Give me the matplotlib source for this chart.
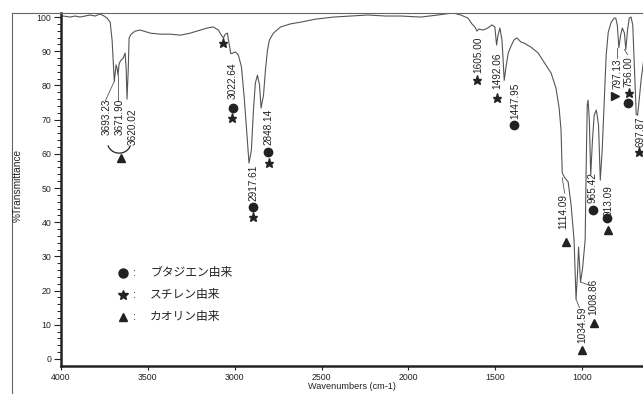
import numpy as np
import matplotlib
matplotlib.use("Agg")
import matplotlib.pyplot as plt
from matplotlib.lines import Line2D

plt.rcParams['font.family'] = ['Liberation Sans', 'Noto Sans CJK JP']

# IR spectrum (wavenumber cm-1, %T)
wavenumber = [4000, 3988, 3948, 3919, 3890, 3862, 3833, 3804, 3775, 3752, 3735,
              3717, 3706, 3693.23, 3683, 3677, 3671.90, 3665, 3654, 3642, 3631,
              3625, 3620.02, 3613, 3608, 3596, 3573, 3544, 3486, 3429, 3371,
              3313, 3256, 3198, 3158, 3123, 3094, 3077, 3065, 3054, 3042, 3036,
              3022.64, 3013, 2996, 2979, 2961, 2944, 2927, 2917.61, 2904, 2892,
              2881, 2869, 2857, 2848.14, 2834, 2823, 2811, 2800, 2777, 2736,
              2679, 2621, 2534, 2430, 2332, 2234, 2130, 2044, 1928, 1830, 1744,
              1698, 1657, 1634, 1617, 1605.00, 1594, 1571, 1542, 1519, 1502,
              1492.06, 1484, 1473, 1461, 1447.95, 1436, 1425, 1409, 1392, 1375,
              1352, 1334, 1294, 1253, 1219, 1178, 1150, 1132, 1121, 1114.09,
              1100, 1080, 1063, 1046, 1034.59, 1026, 1020, 1008.86, 998, 982,
              976, 970, 965.42, 958, 950, 940, 930, 918, 913.09, 905, 895, 884,
              873, 861, 849, 832, 815, 806, 797.13, 788, 778, 768, 756.00, 748,
              738, 728, 718, 708, 697.87, 688, 680, 671, 660, 645]
transmittance = [100.2, 100.3, 100.0, 100.3, 100.0, 100.3, 100.6, 100.3, 100.9,
                 100.3, 99.7, 98.5, 93.3, 81.2, 86.0, 85.0, 83.0, 86.5, 87.4,
                 88.0, 89.5, 85.0, 76.0, 84.5, 93.9, 95.0, 95.9, 96.2, 95.3,
                 95.0, 95.0, 94.7, 95.3, 96.2, 96.8, 97.1, 96.2, 94.7, 93.9,
                 95.0, 95.3, 93.3, 89.3, 89.4, 89.8, 88.9, 85.4, 75.7, 64.0,
                 57.3, 61.0, 72.8, 80.7, 83.0, 80.1, 73.4, 77.2, 84.5, 90.4,
                 93.3, 95.3, 97.1, 98.0, 98.5, 99.4, 100.0, 100.3, 100.6, 100.3,
                 100.3, 100.0, 100.6, 101.2, 100.6, 99.7, 98.0, 97.1, 95.9, 96.5,
                 96.2, 96.8, 97.7, 97.1, 91.8, 94.7, 96.8, 93.3, 81.5, 86.0, 89.5,
                 91.5, 93.3, 93.9, 92.7, 92.4, 91.2, 89.5, 86.8, 83.6, 79.2, 73.4,
                 67.0, 54.5, 53.0, 51.8, 45.0, 34.8, 17.5, 25.0, 32.7, 22.5, 26.0,
                 34.8, 56.7, 74.3, 75.7, 69.9, 53.8, 64.0, 71.3, 72.8, 71.3, 68.4,
                 52.3, 61.1, 74.3, 88.9, 95.6, 98.5, 99.7, 99.7, 97.7, 91.0, 94.7,
                 96.8, 95.3, 90.5, 96.2, 99.7, 100.0, 97.7, 84.5, 71.5, 71.3, 75.7,
                 81.6, 87.4]

# peak labels: text, x, y of the rotated label
peak_labels = ["3693.23", "3671.90", "3620.02", "3022.64", "2917.61", "2848.14",
               "1605.00", "1492.06", "1447.95", "1114.09", "1034.59", "1008.86",
               "965.42", "913.09", "797.13", "756.00", "697.87"]
label_x = [3735, 3660, 3585, 3010, 2894, 2808, 1599, 1489, 1386, 1109, 1000,
           937, 937, 850, 793, 735, 666]
label_y = [70.8, 70.8, 67.8, 81.3, 51.5, 67.8, 88.9, 84.2, 75.4, 43.0, 9.9,
           18.1, 50.0, 46.2, 83.3, 83.9, 66.4]

# assignment markers
butadiene_x = [3010, 2894, 2808, 1392, 937, 856, 735]
butadiene_y = [73.4, 44.4, 60.5, 68.4, 43.6, 41.2, 74.9]
styrene_x = [3067, 3015, 2894, 2802, 1605, 1489, 729, 672]
styrene_y = [92.4, 70.5, 41.5, 57.3, 81.6, 76.3, 77.8, 60.5]
kaolin_x = [3655, 1092, 1000, 931, 850]
kaolin_y = [58.8, 34.2, 2.6, 10.5, 37.7]
kaolin_side_x = [810]
kaolin_side_y = [76.9]

legend_names = ["ブタジエン由来", "スチレン由来", "カオリン由来"]

ink = "#222222"
trace = "#555555"
fig = plt.figure(figsize=(6.43, 3.94), dpi=100)
ax = fig.add_axes([0.0949, 0.0716, 0.9051, 0.8964])

ax.plot(wavenumber, transmittance, color=trace, lw=0.8)
ax.set_xlim(4000, 649)
ax.set_ylim(-2, 101.3)

for txt, x, y in zip(peak_labels, label_x, label_y):
    ax.text(x, y, txt, rotation=90, ha="center", va="center", fontsize=7.2,
            color=ink)

ax.plot(butadiene_x, butadiene_y, "o", color=ink, ms=6, ls="none")
ax.plot(styrene_x, styrene_y, "*", color=ink, ms=6.5, ls="none")
ax.plot(kaolin_x, kaolin_y, "^", color=ink, ms=5.5, ls="none")
ax.plot(kaolin_side_x, kaolin_side_y, ">", color=ink, ms=5.5, ls="none")

# bracket grouping the three OH bands
t = np.linspace(np.radians(200), np.radians(340), 40)
ax.plot(3665 + 67.5 * np.cos(t), 63.4 + 3.2 * np.sin(t), color=ink, lw=0.9)

# leader lines from bands to their labels
ax.plot([3693.23, 3745], [81.2, 75.5], color=trace, lw=0.6)
ax.plot([3671.9, 3671.9], [83, 75.5], color=trace, lw=0.6)
ax.plot([1114.09, 1100], [53, 48.5], color=trace, lw=0.6)
ax.plot([1034.59, 1015], [17.5, 15.0], color=trace, lw=0.6)
ax.plot([1008.86, 955], [22.5, 21.5], color=trace, lw=0.6)
ax.plot([797.13, 797.13], [91.0, 88.0], color=trace, lw=0.6)
ax.plot([756.0, 738], [90.5, 89.0], color=trace, lw=0.6)

# legend block
leg_y = [0.263, 0.2005, 0.138]
for mk, ms, name, y in zip(["o", "*", "^"], [6.5, 7.5, 6], legend_names, leg_y):
    ax.plot([0.1065], [y], mk, color=ink, ms=ms, transform=ax.transAxes)
    ax.text(0.124, y, ":", transform=ax.transAxes, ha="left", va="center",
            fontsize=8, color=ink)
    ax.text(0.153, y, name, transform=ax.transAxes, ha="left", va="center",
            fontsize=8.5, color=ink)

ax.set_xticks([4000, 3500, 3000, 2500, 2000, 1500, 1000])
ax.set_yticks(range(0, 101, 10))
ax.set_yticks(range(0, 101, 2), minor=True)
ax.tick_params(axis="both", labelsize=6.3, colors=ink, width=0.8)
ax.tick_params(axis="y", which="major", length=5, pad=2)
ax.tick_params(axis="y", which="minor", length=3, width=0.6)
ax.tick_params(axis="x", length=3, pad=2)

ax.spines["right"].set_visible(False)
ax.spines["top"].set_visible(False)
ax.spines["left"].set_linewidth(1.8)
ax.spines["bottom"].set_linewidth(1.8)
ax.spines["left"].set_color(ink)
ax.spines["bottom"].set_color(ink)

ax.set_xlabel("Wavenumbers (cm-1)", fontsize=6.6, color=ink, labelpad=0.3)
fig.text(0.027, 0.53, "%Transmittance", rotation=90, ha="center", va="center",
         fontsize=7.3, color=ink)

# outer frame
fig.add_artist(Line2D([11.5 / 643, 1.0], [1 - 12.5 / 394, 1 - 12.5 / 394],
                      color="#666666", lw=0.8))
fig.add_artist(Line2D([11.5 / 643, 11.5 / 643], [0, 1 - 12.5 / 394],
                      color="#666666", lw=0.8))

fig.savefig("out.png", dpi=100)
